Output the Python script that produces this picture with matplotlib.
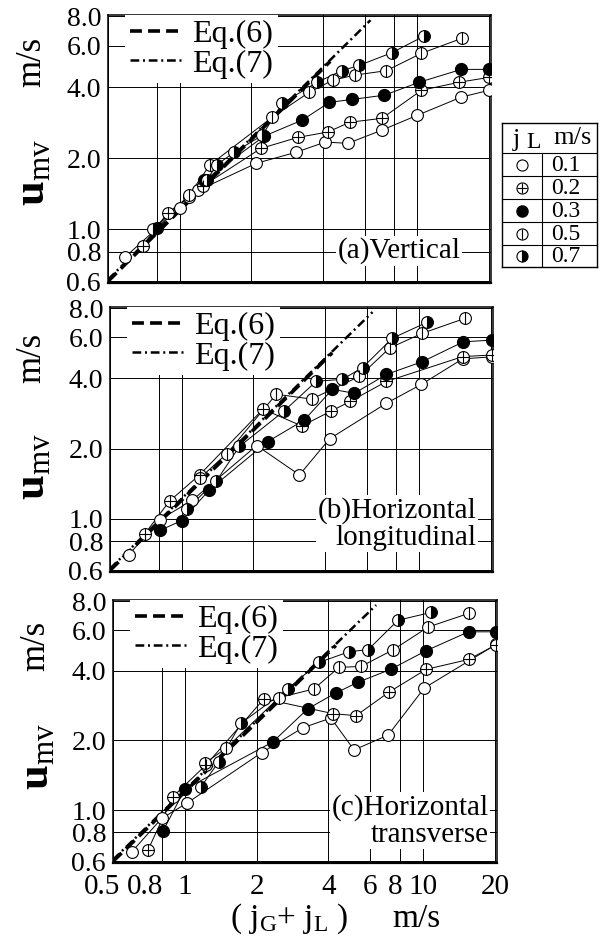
import matplotlib
matplotlib.use('Agg')
import matplotlib.pyplot as plt
import matplotlib.transforms as mtransforms
from matplotlib.lines import Line2D
from matplotlib.ticker import NullLocator

plt.rcParams['font.family'] = ['Liberation Serif', 'DejaVu Serif']
plt.rcParams['mathtext.fontset'] = 'custom'
plt.rcParams['mathtext.rm'] = 'Liberation Serif'
plt.rcParams['mathtext.it'] = 'Liberation Serif:italic'
plt.rcParams['mathtext.bf'] = 'Liberation Serif:bold'

# ---- data: (jG + jL) [m/s] vs u_mv [m/s] ----
jl_labels = ['0.1', '0.2', '0.3', '0.5', '0.7']

# (a) vertical
vert_j_01 = [0.59, 1.0, 1.1, 1.2, 2.1, 3.1, 4.1, 5.1, 7.1, 10.0, 15.3, 20.0]
vert_u_01 = [0.76, 1.23, 1.37, 1.46, 1.90, 2.12, 2.34, 2.31, 2.63, 3.04, 3.63, 3.88]
vert_j_02 = [0.70, 0.89, 1.25, 2.2, 3.15, 4.2, 5.2, 7.1, 10.4, 15.0, 20.0]
vert_u_02 = [0.85, 1.17, 1.52, 2.2, 2.45, 2.58, 2.84, 2.95, 3.88, 4.2, 4.4]
vert_j_03 = [0.80, 1.27, 2.27, 3.28, 4.27, 5.33, 7.27, 10.2, 15.3, 20.0]
vert_u_03 = [1.01, 1.61, 2.48, 2.90, 3.45, 3.55, 3.70, 4.20, 4.76, 4.76]
vert_j_05 = [1.1, 1.34, 2.45, 3.5, 4.4, 5.45, 7.4, 10.4, 15.4]
vert_u_05 = [1.4, 1.87, 2.98, 3.8, 4.28, 4.5, 4.7, 5.57, 6.45]
vert_j_07 = [0.77, 1.3, 1.43, 1.7, 2.23, 2.7, 3.8, 4.8, 5.7, 7.8, 10.7]
vert_u_07 = [1.0, 1.61, 1.87, 2.12, 2.5, 3.42, 4.2, 4.7, 4.95, 5.6, 6.6]

# (b) horizontal, longitudinal
long_j_01 = [0.60, 0.81, 1.11, 2.07, 3.13, 4.19, 7.27, 10.2, 15.2, 20.2]
long_u_01 = [0.70, 0.99, 1.20, 2.06, 1.54, 2.2, 3.13, 3.77, 4.85, 4.95]
long_j_02 = [0.70, 0.89, 1.19, 2.2, 3.2, 4.27, 5.13, 7.27, 15.2, 20.2]
long_u_02 = [0.86, 1.19, 1.54, 2.95, 2.5, 2.9, 3.19, 3.88, 4.96, 5.04]
long_j_03 = [0.81, 1.0, 1.31, 2.3, 3.28, 4.31, 5.33, 7.27, 10.3, 15.3, 20.2]
long_u_03 = [0.89, 0.98, 1.33, 2.14, 2.65, 3.59, 3.45, 4.16, 4.72, 5.74, 5.84]
long_j_05 = [1.2, 1.55, 2.5, 3.52, 5.6, 7.5, 10.3, 15.5]
long_u_05 = [1.5, 1.9, 3.42, 3.26, 4.08, 5.4, 6.25, 7.23]
long_j_07 = [1.05, 1.40, 1.75, 2.7, 3.69, 4.74, 5.77, 7.7, 10.8]
long_u_07 = [1.1, 1.45, 2.04, 2.9, 3.89, 3.96, 4.45, 5.95, 6.97]

# (c) horizontal, transverse
trans_j_01 = [0.60, 0.80, 1.02, 2.1, 3.13, 4.1, 5.13, 7.13, 10.1, 20.2]
trans_u_01 = [0.66, 0.92, 1.07, 1.77, 2.27, 2.5, 1.82, 2.11, 3.37, 5.2]
trans_j_02 = [0.70, 0.89, 1.23, 2.15, 4.2, 5.23, 7.2, 10.3, 15.5, 20.2]
trans_u_02 = [0.67, 1.14, 1.57, 3.03, 2.61, 2.56, 3.24, 4.06, 4.48, 5.18]
trans_j_03 = [0.81, 1.0, 2.34, 3.28, 4.3, 5.33, 7.3, 10.3, 15.5, 20.2]
trans_u_03 = [0.81, 1.23, 1.97, 2.74, 3.21, 3.57, 4.06, 4.89, 5.9, 5.9]
trans_j_05 = [1.22, 1.49, 2.48, 3.48, 4.43, 5.49, 7.5, 10.5, 15.6]
trans_u_05 = [1.6, 1.85, 3.06, 3.34, 4.14, 4.18, 4.94, 6.19, 7.1]
trans_j_07 = [1.17, 1.39, 1.72, 2.7, 3.66, 4.89, 5.88, 7.84, 10.8]
trans_u_07 = [1.26, 1.62, 2.37, 3.34, 4.35, 4.84, 4.94, 6.62, 7.16]

# correlation lines
eq6_j = [0.5, 4.3]
eq6_u = [0.6, 5.15]
eq7_j = [0.5, 6.35]
eq7_u = [0.61, 7.7]

x_ticks = [0.5, 0.8, 1, 2, 4, 6, 8, 10, 20]
x_ticklabels = ['0.5', '0.8', '1', '2', '4', '6', '8', '10', '20']
y_ticks = [0.6, 0.8, 1.0, 2.0, 4.0, 6.0, 8.0]
y_ticklabels = ['0.6', '0.8', '1.0', '2.0', '4.0', '6.0', '8.0']

W, H = 611, 942
fig = plt.figure(figsize=(W / 100, H / 100), dpi=100)


def box(l, t, r, b):
    return [l / W, 1 - b / H, (r - l) / W, (b - t) / H]


def draw_marks(ax, j, u, kind, ms=8.5, z=3):
    if kind == '0.3':
        ax.plot(j, u, 'o', ls='none', ms=ms, mfc='k', mec='k', zorder=z)
    elif kind == '0.7':
        ax.plot(j, u, 'o', ls='none', ms=ms, fillstyle='right', mfc='k',
                mfcalt='white', mec='k', mew=0.8, zorder=z)
    else:
        ax.plot(j, u, 'o', ls='none', ms=ms, mfc='white', mec='k', mew=0.8, zorder=z)
        if kind == '0.2':
            ax.plot(j, u, '+', ls='none', ms=ms * 0.95, mec='k', mew=0.8, zorder=z + 0.1)
        elif kind == '0.5':
            ax.plot(j, u, '|', ls='none', ms=ms * 0.95, mec='k', mew=0.8, zorder=z + 0.1)


dash6 = (0, (3.3, 1.7))
dash7 = (0, (3.5, 1.5, 0.8, 1.5))

panels = [
    (box(108, 15, 491, 283), [(vert_j_01, vert_u_01), (vert_j_02, vert_u_02), (vert_j_03, vert_u_03),
                              (vert_j_05, vert_u_05), (vert_j_07, vert_u_07)],
     '(a)Vertical', (8.4, 0.81), 'center', (32, 62), (33, 173)),
    (box(110, 307, 493, 572), [(long_j_01, long_u_01), (long_j_02, long_u_02), (long_j_03, long_u_03),
                               (long_j_05, long_u_05), (long_j_07, long_u_07)],
     '(b)Horizontal\nlongitudinal', (17.4, 0.95), 'right', (32, 358), (33, 467)),
    (box(113, 600, 497, 863), [(trans_j_01, trans_u_01), (trans_j_02, trans_u_02), (trans_j_03, trans_u_03),
                               (trans_j_05, trans_u_05), (trans_j_07, trans_u_07)],
     '(c)Horizontal\ntransverse', (18.8, 0.90), 'right', (36, 646), (37, 757)),
]

# horizontal nudges (points) of crowded x tick labels
x_label_shift = [-8, -12, 0, 0, 0, 0, -3.5, 0, 0]

for k, (pos, series, label, label_xy, label_ha, ms_xy, u_xy) in enumerate(panels):
    ax = fig.add_axes(pos)
    ax.set_xscale('log')
    ax.set_yscale('log')
    ax.set_xlim(0.5, 20.4)
    ax.set_ylim(0.59, 8.1)
    ax.set_xticks(x_ticks)
    ax.set_yticks(y_ticks)
    ax.xaxis.set_minor_locator(NullLocator())
    ax.yaxis.set_minor_locator(NullLocator())
    ax.set_yticklabels(y_ticklabels, fontsize=20)
    ax.set_xticklabels([])
    if k == 2:
        for xv, lab, dx in zip(x_ticks, x_ticklabels, x_label_shift):
            tr = ax.get_xaxis_transform() + mtransforms.ScaledTranslation(
                dx / 72, -8 / 72, fig.dpi_scale_trans)
            ax.text(xv, 0, lab, transform=tr, ha='center', va='top', fontsize=21)
    ax.tick_params(length=0, pad=5)
    ax.grid(True, color='k', lw=0.7)
    ax.set_axisbelow(True)
    for s in ax.spines.values():
        s.set_linewidth(1.1)
    ax.spines['bottom'].set_linewidth(1.6)

    for (j, u), kind in zip(series, jl_labels):
        ax.plot(j, u, '-', color='k', lw=0.7, zorder=2)
        draw_marks(ax, j, u, kind)

    ax.plot(eq6_j, eq6_u, color='k', lw=2.6, ls=dash6, zorder=2.5)
    ax.plot(eq7_j, eq7_u, color='k', lw=1.8, ls=dash7, zorder=2.5)

    h6 = Line2D([], [], color='k', lw=2.6, ls=dash6)
    h7 = Line2D([], [], color='k', lw=1.8, ls=dash7)
    leg = ax.legend([h6, h7], ['Eq.(6)', 'Eq.(7)'], loc='upper left',
                    bbox_to_anchor=(0.044, 1.0), borderaxespad=0, borderpad=0.15,
                    fontsize=23, handlelength=1.7, handletextpad=0.25,
                    labelspacing=0.0, frameon=True, fancybox=False,
                    framealpha=1, facecolor='white', edgecolor='none')
    leg.set_zorder(6)

    ax.text(label_xy[0], label_xy[1], label, ha=label_ha, va='center',
            multialignment=label_ha, fontsize=21, linespacing=1.05, zorder=7,
            bbox=dict(facecolor='white', edgecolor='none', pad=1))

    fig.text(ms_xy[0] / W, 1 - ms_xy[1] / H, 'm/s', rotation=90,
             ha='center', va='center', fontsize=25)
    fig.text(u_xy[0] / W, 1 - u_xy[1] / H, r'$\mathbf{u}_{\mathrm{mv}}$', rotation=90,
             ha='center', va='center', fontsize=32)

# x axis label
fig.text(230 / W, 1 - 927 / H, r'( $\mathrm{j}_{\mathrm{G}}$+ $\mathrm{j}_{\mathrm{L}}$ )',
         ha='left', va='baseline', fontsize=24)
fig.text(392 / W, 1 - 927 / H, 'm/s', ha='left', va='baseline', fontsize=24)

# j_L key table
tab = fig.add_axes(box(502, 123, 597, 267))
tab.set_xlim(0, 95)
tab.set_ylim(144, 0)
tab.set_xticks([])
tab.set_yticks([])
for s in tab.spines.values():
    s.set_linewidth(1.0)
row_edges = [30, 53, 76, 99, 122, 144]
for y in row_edges[:-1]:
    tab.plot([0, 95], [y, y], color='k', lw=0.8)
tab.plot([40, 40], [30, 144], color='k', lw=0.8)
tab.text(14, 17, 'j', ha='center', va='center', fontsize=19)
tab.text(32, 19, 'L', ha='center', va='center', fontsize=17)
tab.text(71, 15, 'm/s', ha='center', va='center', fontsize=19)
for i, lab in enumerate(jl_labels):
    yc = (row_edges[i] + row_edges[i + 1]) / 2
    draw_marks(tab, [20], [yc], lab, ms=8)
    tab.text(64, yc + 1, lab, ha='center', va='center', fontsize=17)

fig.savefig('out.png', dpi=100)
